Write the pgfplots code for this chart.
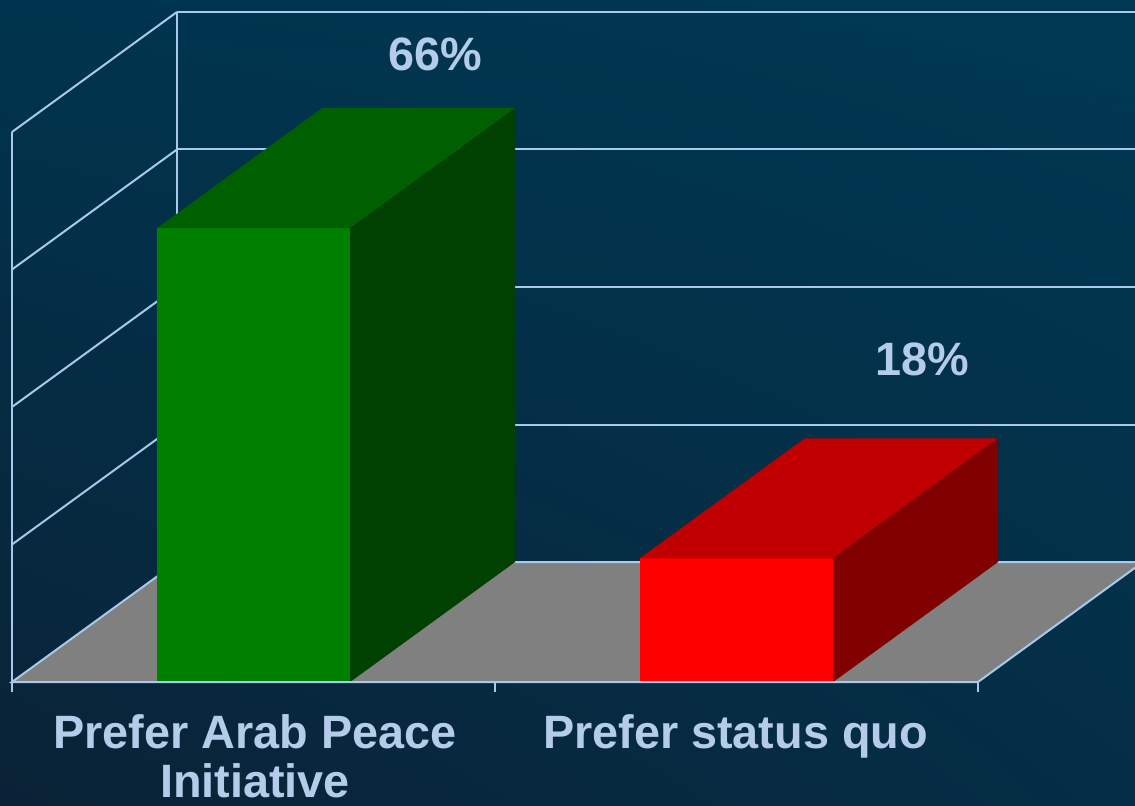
\documentclass[border=0pt]{standalone}
\usepackage{pgfplots}
\pgfplotsset{compat=1.18}
\usetikzlibrary{shadings}
\usepackage{fontspec}
\setmainfont{Liberation Sans}
\definecolor{bgA}{HTML}{003852}
\definecolor{bgB}{HTML}{0A2236}
\definecolor{bgC}{HTML}{00344E}
\definecolor{bgD}{HTML}{042E46}
\definecolor{gridc}{HTML}{A8C8EC}
\definecolor{txt}{HTML}{B4CCEA}
\definecolor{gfront}{HTML}{008000}
\definecolor{gtop}{HTML}{006000}
\definecolor{gside}{HTML}{004000}
\definecolor{rfront}{HTML}{FF0000}
\definecolor{rtop}{HTML}{C00000}
\definecolor{rside}{HTML}{800000}
\definecolor{floorc}{HTML}{808080}
\begin{document}
\begin{tikzpicture}
\begin{axis}[
  width=567.5pt, height=402.5pt, scale only axis,
  xmin=-0.5248, xmax=1.8251, ymin=-17.891, ymax=99.2,
  hide axis, clip=false,
]
% background
\fill[upper left=bgC, upper right=bgA, lower left=bgB, lower right=bgD]
  (axis cs:-0.5248,-17.891) rectangle (axis cs:1.8251,99.2);
% back wall grid lines
\foreach \v in {0,20,40,60,80}{
  \edef\tmp{\noexpand\draw[gridc, line width=1pt] (axis cs:-0.15839,\v+17.4545) -- (axis cs:1.8251,\v+17.4545);}\tmp
}
\draw[gridc, line width=1pt] (axis cs:-0.15839,17.4545) -- (axis cs:-0.15839,97.4545);
% left wall
\foreach \v in {20,40,60,80}{
  \edef\tmp{\noexpand\draw[gridc, line width=1pt] (axis cs:-0.5,\v) -- (axis cs:-0.15839,\v+17.4545);}\tmp
}
\draw[gridc, line width=1pt] (axis cs:-0.5,-1.5) -- (axis cs:-0.5,80);
% floor
\addplot[fill=floorc, draw=gridc, line width=1pt] coordinates {(-0.5,0) (1.5,0) (1.84161,17.4545) (-0.15839,17.4545)} -- cycle;
% green bar (66)
\addplot[fill=gfront, draw=none] coordinates {(-0.2,0) (0.2,0) (0.2,66) (-0.2,66)} -- cycle;
\addplot[fill=gtop, draw=none] coordinates {(-0.2,66) (0.2,66) (0.54161,83.4545) (0.14161,83.4545)} -- cycle;
\addplot[fill=gside, draw=none] coordinates {(0.2,0) (0.54161,17.4545) (0.54161,83.4545) (0.2,66)} -- cycle;
% red bar (18)
\addplot[fill=rfront, draw=none] coordinates {(0.8,0) (1.2,0) (1.2,18) (0.8,18)} -- cycle;
\addplot[fill=rtop, draw=none] coordinates {(0.8,18) (1.2,18) (1.54161,35.4545) (1.14161,35.4545)} -- cycle;
\addplot[fill=rside, draw=none] coordinates {(1.2,0) (1.54161,17.4545) (1.54161,35.4545) (1.2,18)} -- cycle;
% front axis line and ticks
\draw[gridc, line width=1pt] (axis cs:-0.5,0) -- (axis cs:1.5,0);
\draw[gridc, line width=1pt] (axis cs:0.5,0) -- (axis cs:0.5,-1.5);
\draw[gridc, line width=1pt] (axis cs:1.5,0) -- (axis cs:1.5,-1.5);
% labels
\tikzset{lbl/.style={anchor=base, txt, inner sep=0pt, text depth=0pt, font=\fontsize{23.4}{26}\selectfont\bfseries}}
\node[lbl] at (axis cs:0.3758,89.0) {66\%};
\node[lbl] at (axis cs:1.384,44.65) {18\%};
\node[lbl] at (axis cs:0.003,-9.6) {Prefer Arab Peace};
\node[lbl] at (axis cs:0.003,-16.8) {Initiative};
\node[lbl] at (axis cs:0.998,-9.6) {Prefer status quo};
\end{axis}
\pgfresetboundingbox
\path (current axis.south west) rectangle (current axis.north east);
\end{tikzpicture}
\end{document}
